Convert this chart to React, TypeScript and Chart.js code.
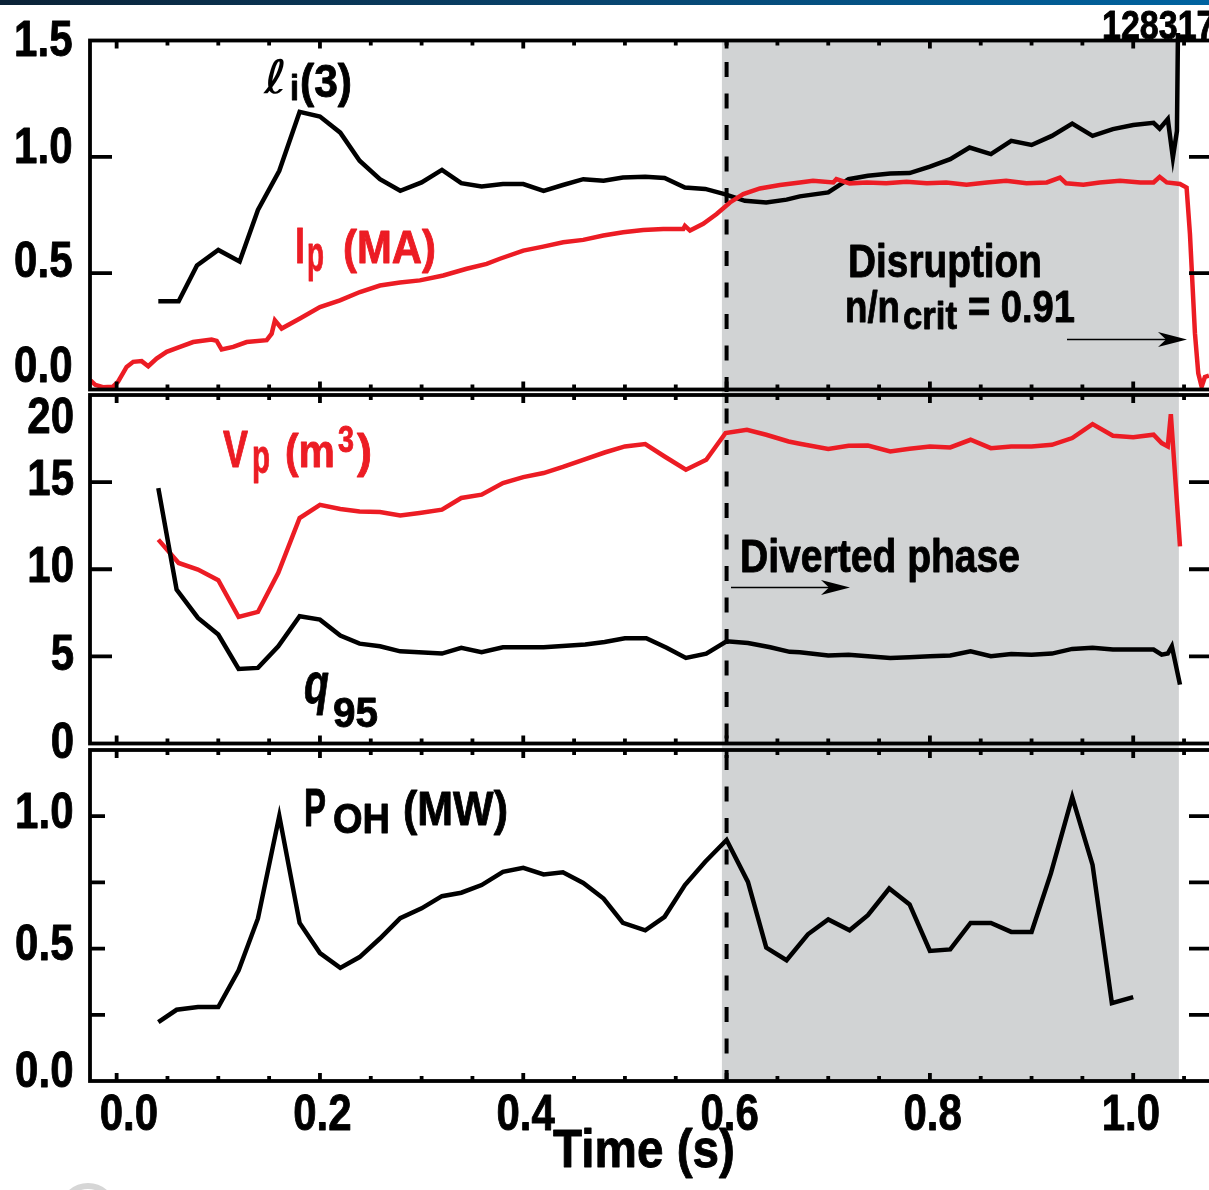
import React, { useEffect, useRef } from 'react';
import { Chart, registerables } from 'chart.js';

Chart.register(...registerables);

// ---------------- data (time in s) ----------------
// li(3)
const T_LI = [0.041, 0.061, 0.079, 0.100, 0.121, 0.139, 0.160, 0.180, 0.200, 0.220, 0.239, 0.259, 0.279, 0.300, 0.320, 0.339, 0.359, 0.380, 0.400, 0.420, 0.439, 0.459, 0.479, 0.498, 0.520, 0.539, 0.559, 0.579, 0.598, 0.618, 0.639, 0.659, 0.672, 0.700, 0.720, 0.739, 0.761, 0.780, 0.800, 0.820, 0.839, 0.860, 0.880, 0.900, 0.920, 0.940, 0.960, 0.980, 1.000, 1.020, 1.026, 1.034, 1.039, 1.043, 1.044];
const LI3 = [0.379, 0.379, 0.533, 0.600, 0.550, 0.772, 0.940, 1.193, 1.173, 1.104, 0.983, 0.904, 0.854, 0.890, 0.944, 0.887, 0.873, 0.883, 0.883, 0.854, 0.879, 0.904, 0.897, 0.911, 0.914, 0.909, 0.868, 0.862, 0.840, 0.811, 0.804, 0.816, 0.830, 0.847, 0.904, 0.919, 0.928, 0.930, 0.958, 0.990, 1.040, 1.012, 1.069, 1.051, 1.090, 1.143, 1.090, 1.119, 1.137, 1.146, 1.121, 1.162, 0.997, 1.111, 1.532];

// Ip (MA)
const T_IP = [-0.026, -0.021, -0.0135, -0.0036, 0.0013, 0.0098, 0.0163, 0.0246, 0.0311, 0.0393, 0.0492, 0.0623, 0.0753, 0.0934, 0.0984, 0.1033, 0.1147, 0.1279, 0.1476, 0.1525, 0.1557, 0.1623, 0.1803, 0.2000, 0.2197, 0.2393, 0.2590, 0.2787, 0.2983, 0.3213, 0.3443, 0.3640, 0.3770, 0.4000, 0.4196, 0.4393, 0.4590, 0.4787, 0.4983, 0.5180, 0.5377, 0.5574, 0.5590, 0.5640, 0.5770, 0.5902, 0.6033, 0.6164, 0.6328, 0.6525, 0.6721,
  0.685, 0.705, 0.708, 0.721, 0.738, 0.757, 0.777, 0.797, 0.816, 0.836, 0.856, 0.875, 0.895, 0.915, 0.928, 0.934, 0.951, 0.967, 0.987, 1.007, 1.020, 1.026, 1.033, 1.046, 1.0525, 1.0558, 1.0607, 1.064, 1.0673, 1.0705, 1.0745];
const IP = [0.040, 0.020, 0.010, 0.012, 0.033, 0.097, 0.119, 0.122, 0.100, 0.133, 0.162, 0.183, 0.204, 0.215, 0.209, 0.172, 0.183, 0.204, 0.212, 0.240, 0.297, 0.262, 0.305, 0.354, 0.383, 0.419, 0.447, 0.460, 0.469, 0.490, 0.519, 0.540, 0.562, 0.597, 0.614, 0.633, 0.643, 0.662, 0.676, 0.686, 0.690, 0.690, 0.703, 0.683, 0.712, 0.754, 0.804, 0.840, 0.864, 0.879, 0.890,
  0.897, 0.890, 0.904, 0.886, 0.890, 0.886, 0.893, 0.886, 0.890, 0.880, 0.890, 0.897, 0.886, 0.890, 0.911, 0.886, 0.880, 0.890, 0.897, 0.890, 0.890, 0.914, 0.890, 0.883, 0.868, 0.669, 0.242, 0.069, 0.012, 0.054, 0.060];

// Vp (m^3)
const T_VP = [0.041, 0.061, 0.080, 0.100, 0.120, 0.139, 0.159, 0.180, 0.200, 0.220, 0.239, 0.259, 0.279, 0.298, 0.320, 0.339, 0.359, 0.380, 0.400, 0.420, 0.439, 0.459, 0.480, 0.500, 0.520, 0.539, 0.560, 0.580, 0.599, 0.620, 0.639, 0.661, 0.672, 0.700, 0.720, 0.739, 0.761, 0.780, 0.800, 0.820, 0.840, 0.860, 0.880, 0.900, 0.920, 0.940, 0.960, 0.980, 1.000, 1.020, 1.028, 1.034, 1.037, 1.046];
const VP = [11.70, 10.36, 9.98, 9.37, 7.26, 7.55, 9.79, 12.94, 13.70, 13.46, 13.32, 13.28, 13.08, 13.23, 13.42, 14.09, 14.28, 14.95, 15.29, 15.52, 15.87, 16.28, 16.70, 17.05, 17.18, 16.47, 15.71, 16.28, 17.82, 18.00, 17.72, 17.33, 17.20, 16.90, 17.09, 17.10, 16.76, 16.91, 17.05, 16.99, 17.43, 16.95, 17.05, 17.05, 17.14, 17.53, 18.33, 17.66, 17.58, 17.72, 17.24, 17.05, 18.90, 11.31];

// q95
const T_Q = [0.041, 0.059, 0.080, 0.100, 0.120, 0.139, 0.159, 0.180, 0.200, 0.220, 0.239, 0.259, 0.279, 0.320, 0.339, 0.359, 0.380, 0.420, 0.461, 0.480, 0.500, 0.521, 0.541, 0.560, 0.580, 0.600, 0.621, 0.643, 0.662, 0.672, 0.700, 0.720, 0.739, 0.761, 0.780, 0.800, 0.820, 0.840, 0.860, 0.880, 0.900, 0.920, 0.940, 0.960, 0.980, 1.000, 1.020, 1.028, 1.034, 1.038, 1.046];
const Q95 = [14.66, 8.83, 7.21, 6.25, 4.28, 4.34, 5.58, 7.30, 7.11, 6.19, 5.73, 5.58, 5.29, 5.16, 5.49, 5.24, 5.52, 5.52, 5.68, 5.83, 6.04, 6.04, 5.49, 4.91, 5.16, 5.87, 5.77, 5.52, 5.26, 5.24, 5.05, 5.10, 5.01, 4.91, 4.95, 5.01, 5.05, 5.29, 5.01, 5.14, 5.10, 5.16, 5.43, 5.49, 5.39, 5.39, 5.39, 5.10, 5.16, 5.58, 3.38];

// P_OH (MW)
const T_POH = [0.041, 0.059, 0.080, 0.100, 0.120, 0.139, 0.160, 0.180, 0.200, 0.220, 0.239, 0.259, 0.279, 0.300, 0.320, 0.339, 0.359, 0.380, 0.400, 0.420, 0.439, 0.459, 0.479, 0.498, 0.520, 0.539, 0.559, 0.579, 0.600, 0.621, 0.639, 0.659, 0.680, 0.700, 0.721, 0.739, 0.760, 0.780, 0.800, 0.820, 0.840, 0.860, 0.880, 0.900, 0.919, 0.940, 0.960, 0.979, 1.000];
const POH = [0.222, 0.269, 0.279, 0.279, 0.418, 0.614, 1.001, 0.597, 0.483, 0.427, 0.468, 0.538, 0.615, 0.652, 0.698, 0.711, 0.740, 0.790, 0.805, 0.780, 0.788, 0.748, 0.689, 0.597, 0.569, 0.620, 0.740, 0.828, 0.910, 0.752, 0.504, 0.456, 0.554, 0.610, 0.569, 0.626, 0.727, 0.667, 0.491, 0.497, 0.597, 0.597, 0.563, 0.563, 0.784, 1.072, 0.816, 0.294, 0.317];

// phases
const SHADE_START = 0.5954;
const SHADE_END = 1.0449;
const DIVERTED_T = 0.6;

// axes
const X_MIN = -0.0262;
const X_MAX = 1.077;
const X_LABEL_VALUES = [0, 0.2, 0.4, 0.6, 0.8, 1.0];
const X_LABEL_TEXT = ['0.0', '0.2', '0.4', '0.6', '0.8', '1.0'];
const X_MINOR_STEP = 0.05;
const X_MINOR_COUNT = 22;

const P1_RANGE = [0, 1.5];
const P1_TICKS = [0.5, 1.0];
const P1_LABEL_VALUES = [0, 0.5, 1.0, 1.5];
const P1_LABEL_TEXT = ['0.0', '0.5', '1.0', '1.5'];

const P2_RANGE = [0, 20];
const P2_TICKS = [5, 10, 15];
const P2_LABEL_VALUES = [0, 5, 10, 15, 20];
const P2_LABEL_TEXT = ['0', '5', '10', '15', '20'];

const P3_RANGE = [0, 1.25];
const P3_TICKS = [0.25, 0.5, 0.75, 1.0];
const P3_LABEL_VALUES = [0, 0.5, 1.0];
const P3_LABEL_TEXT = ['0.0', '0.5', '1.0'];

// ---------------- layout / style ----------------
const CANVAS_W = 1240;
const CANVAS_H = 1190;
const PLOT_LEFT = 90;
const PLOT_RIGHT = 1211.5;
const FONT = '"Liberation Sans", Arial, Helvetica, sans-serif';
const RED = '#ec1c24';
const BLACK = '#000000';
const SHADE = '#d1d3d4';
const LINE_W = 4.5;
const FRAME_W = 3.8;
const TEXT_STROKE = 0.9;

const P1_LABEL_DY = [-7.5, 4, 6, 15.5];
const P2_LABEL_DY = [14.5, 13.6, 12.5, 13, 38];
const P3_LABEL_DY = [6, 11.4, 12];
const X_LABEL_DX = [12.3, 2.5, 2.3, 3, 2.7, -2.3];

type TextSpec = {
  text: string; x: number; y: number; size: number;
  width?: number; hs?: number; color?: string; weight?: string; style?: string;
  family?: string; align?: 'left' | 'right' | 'center';
};

function drawText(ctx: CanvasRenderingContext2D, t: TextSpec) {
  ctx.save();
  const weight = t.weight || 'bold';
  ctx.font = `${t.style || 'normal'} ${weight} ${t.size}px ${t.family || FONT}`;
  ctx.fillStyle = t.color || BLACK;
  ctx.strokeStyle = t.color || BLACK;
  ctx.textBaseline = 'alphabetic';
  ctx.textAlign = 'left';
  const w = ctx.measureText(t.text).width;
  const s = t.width ? t.width / w : (t.hs ?? 0.84);
  const sw = w * s;
  let x0 = t.x;
  if (t.align === 'right') x0 = t.x - sw;
  else if (t.align === 'center') x0 = t.x - sw / 2;
  ctx.translate(x0, t.y);
  ctx.scale(s, 1);
  ctx.fillText(t.text, 0, 0);
  if (weight === 'bold') {
    ctx.lineWidth = TEXT_STROKE;
    ctx.lineJoin = 'round';
    ctx.strokeText(t.text, 0, 0);
  }
  ctx.restore();
}

function drawArrow(ctx: CanvasRenderingContext2D, x1: number, x2: number, y: number) {
  ctx.save();
  ctx.strokeStyle = BLACK;
  ctx.fillStyle = BLACK;
  ctx.lineWidth = 1.7;
  ctx.setLineDash([]);
  ctx.beginPath();
  ctx.moveTo(x1, y);
  ctx.lineTo(x2 - 10, y);
  ctx.stroke();
  ctx.beginPath();
  ctx.moveTo(x2, y);
  ctx.lineTo(x2 - 29, y - 7.5);
  ctx.lineTo(x2 - 21, y);
  ctx.lineTo(x2 - 29, y + 7.5);
  ctx.closePath();
  ctx.fill();
  ctx.restore();
}

interface PanelDef {
  top: number; bottom: number; range: number[]; ticks: number[];
  tickLenL: number; tickLenR: number;
  labelValues: number[]; labelText: string[]; labelDy: number[]; labelRight: number;
  texts: TextSpec[]; arrows: number[][]; datasets: any[];
}

const pts = (t: number[], v: number[]) => t.map((x, i) => ({ x, y: v[i] }));

const PANELS: PanelDef[] = [
  {
    top: 40.5, bottom: 389.5, range: P1_RANGE, ticks: P1_TICKS, tickLenL: 22, tickLenR: 22.5,
    labelValues: P1_LABEL_VALUES, labelText: P1_LABEL_TEXT, labelDy: P1_LABEL_DY, labelRight: 72.5,
    texts: [
      { text: '\u2113', x: 264, y: 93, size: 46, weight: 'normal', style: 'italic', family: '"DejaVu Sans", sans-serif', width: 23 },
      { text: 'i', x: 290, y: 100, size: 35, width: 9 },
      { text: '(3)', x: 300, y: 97, size: 46, width: 52 },
      { text: 'I', x: 295, y: 263, size: 50, width: 10, color: RED },
      { text: 'p', x: 307, y: 271, size: 50, width: 17, color: RED },
      { text: '(MA)', x: 343, y: 263, size: 47, width: 93, color: RED },
      { text: 'Disruption', x: 848, y: 277, size: 47, width: 194 },
      { text: 'n/n', x: 845, y: 322, size: 44, width: 55 },
      { text: 'crit', x: 903, y: 329, size: 38, width: 54 },
      { text: '= 0.91', x: 968, y: 322, size: 44, width: 107 },
      { text: '128317', x: 1102, y: 39, size: 40, hs: 0.85 },
    ],
    arrows: [[1067, 1187, 339.5]],
    datasets: [
      { label: 'Ip (MA)', data: pts(T_IP, IP), borderColor: RED },
      { label: 'li(3)', data: pts(T_LI, LI3), borderColor: BLACK, clip: false },
    ],
  },
  {
    top: 395, bottom: 743.5, range: P2_RANGE, ticks: P2_TICKS, tickLenL: 22, tickLenR: 22.5,
    labelValues: P2_LABEL_VALUES, labelText: P2_LABEL_TEXT, labelDy: P2_LABEL_DY, labelRight: 74,
    texts: [
      { text: 'V', x: 223, y: 467, size: 51, width: 25, color: RED },
      { text: 'p', x: 252, y: 473, size: 48, width: 18, color: RED },
      { text: '(m', x: 285, y: 467, size: 47, width: 50, color: RED },
      { text: '3', x: 338, y: 452, size: 37, width: 16, color: RED },
      { text: ')', x: 357, y: 467, size: 47, width: 15, color: RED },
      { text: 'Diverted phase', x: 740, y: 572, size: 47, width: 280 },
      { text: 'q', x: 304, y: 703, size: 58, width: 25, style: 'italic' },
      { text: '95', x: 333, y: 727, size: 42, width: 45 },
    ],
    arrows: [[731, 850, 587.5]],
    datasets: [
      { label: 'q95', data: pts(T_Q, Q95), borderColor: BLACK },
      { label: 'Vp (m3)', data: pts(T_VP, VP), borderColor: RED },
    ],
  },
  {
    top: 750, bottom: 1081, range: P3_RANGE, ticks: P3_TICKS, tickLenL: 15, tickLenR: 22.5,
    labelValues: P3_LABEL_VALUES, labelText: P3_LABEL_TEXT, labelDy: P3_LABEL_DY, labelRight: 73.5,
    texts: [
      { text: 'P', x: 304, y: 826, size: 53, width: 22 },
      { text: 'OH', x: 333, y: 833, size: 43, width: 57 },
      { text: '(MW)', x: 403, y: 825, size: 49, width: 105 },
      { text: 'Time (s)', x: 644, y: 1167, size: 54, width: 182, align: 'center' },
    ],
    arrows: [],
    datasets: [
      { label: 'POH (MW)', data: pts(T_POH, POH), borderColor: BLACK },
    ],
  },
];

function makePlugin(index: number) {
  const p = PANELS[index];
  return {
    id: 'panelDecor' + index,
    beforeDatasetsDraw(chart: any) {
      if (index !== 0) return;
      const ctx: CanvasRenderingContext2D = chart.ctx;
      const xs = chart.scales.x;
      ctx.save();
      // top banner
      const g = ctx.createLinearGradient(0, 0, 1209, 0);
      g.addColorStop(0, '#0b2236');
      g.addColorStop(0.5, '#08456f');
      g.addColorStop(1, '#0063a0');
      ctx.fillStyle = g;
      ctx.fillRect(0, 0, CANVAS_W, 5);
      // shaded diverted phase
      const top = PANELS[0].top;
      const bottom = PANELS[2].bottom;
      const x1 = xs.getPixelForValue(SHADE_START);
      const x2 = xs.getPixelForValue(SHADE_END);
      ctx.fillStyle = SHADE;
      ctx.fillRect(x1, top, x2 - x1, bottom - top);
      // dashed divertor line
      const xd = xs.getPixelForValue(DIVERTED_T);
      const period = 31.5;
      ctx.setLineDash([15, 16.5]);
      ctx.lineDashOffset = (((top - 62) % period) + period) % period;
      ctx.strokeStyle = BLACK;
      ctx.lineWidth = 4;
      ctx.beginPath();
      ctx.moveTo(xd, top);
      ctx.lineTo(xd, bottom);
      ctx.stroke();
      ctx.setLineDash([]);
      // faint mark bottom-left
      ctx.strokeStyle = '#d6d6d6';
      ctx.lineWidth = 6;
      ctx.beginPath();
      ctx.arc(88, 1212, 26, 1.25 * Math.PI, 1.75 * Math.PI);
      ctx.stroke();
      ctx.restore();
    },
    afterDatasetsDraw(chart: any) {
      const ctx: CanvasRenderingContext2D = chart.ctx;
      const xs = chart.scales.x;
      const ys = chart.scales.y;
      const a = chart.chartArea;
      ctx.save();
      ctx.setLineDash([]);
      ctx.strokeStyle = BLACK;
      ctx.lineWidth = FRAME_W;
      ctx.lineCap = 'butt';
      ctx.strokeRect(a.left, a.top, a.right - a.left, a.bottom - a.top);
      // y ticks (inward, both sides)
      ctx.beginPath();
      p.ticks.forEach((v) => {
        const y = ys.getPixelForValue(v);
        ctx.moveTo(a.left, y); ctx.lineTo(a.left + p.tickLenL, y);
        ctx.moveTo(a.right, y); ctx.lineTo(a.right - p.tickLenR, y);
      });
      // x ticks (inward, top and bottom)
      for (let k = 0; k < X_MINOR_COUNT; k++) {
        const x = xs.getPixelForValue(k * X_MINOR_STEP);
        const len = k % 4 === 0 ? 8 : 5;
        ctx.moveTo(x, a.top); ctx.lineTo(x, a.top + len);
        ctx.moveTo(x, a.bottom); ctx.lineTo(x, a.bottom - len);
      }
      ctx.stroke();
      ctx.restore();

      // y tick labels
      p.labelValues.forEach((v, i) => {
        drawText(ctx, { text: p.labelText[i], x: p.labelRight, y: ys.getPixelForValue(v) + p.labelDy[i], size: 50, hs: 0.84, align: 'right' });
      });
      // x tick labels on bottom panel
      if (index === 2) {
        X_LABEL_VALUES.forEach((v, i) => {
          drawText(ctx, { text: X_LABEL_TEXT[i], x: xs.getPixelForValue(v) + X_LABEL_DX[i], y: 1129.5, size: 50, hs: 0.84, align: 'center' });
        });
      }
      p.texts.forEach((t) => drawText(ctx, t));
      p.arrows.forEach((ar) => drawArrow(ctx, ar[0], ar[1], ar[2]));
    },
  };
}

function makeConfig(index: number): any {
  const p = PANELS[index];
  return {
    type: 'line',
    data: {
      datasets: p.datasets.map((d) => ({
        ...d,
        borderWidth: LINE_W,
        pointRadius: 0,
        fill: false,
        tension: 0,
      })),
    },
    options: {
      animation: false,
      responsive: false,
      devicePixelRatio: 1,
      events: [],
      layout: {
        padding: { left: PLOT_LEFT, right: CANVAS_W - PLOT_RIGHT, top: p.top, bottom: CANVAS_H - p.bottom },
      },
      scales: {
        x: { type: 'linear', min: X_MIN, max: X_MAX, display: false },
        y: { type: 'linear', min: p.range[0], max: p.range[1], display: false },
      },
      plugins: { legend: { display: false }, tooltip: { enabled: false } },
      elements: {
        point: { radius: 0 },
        line: { tension: 0, borderJoinStyle: 'miter', borderCapStyle: 'butt' },
      },
    },
    plugins: [makePlugin(index)],
  };
}

export default function App() {
  const r0 = useRef<HTMLCanvasElement>(null);
  const r1 = useRef<HTMLCanvasElement>(null);
  const r2 = useRef<HTMLCanvasElement>(null);

  useEffect(() => {
    const refs = [r0, r1, r2];
    const charts = refs.map((r, i) => new Chart(r.current as HTMLCanvasElement, makeConfig(i)));
    return () => charts.forEach((c) => c.destroy());
  }, []);

  const cs: React.CSSProperties = { position: 'absolute', left: 0, top: 0, width: CANVAS_W, height: CANVAS_H };
  return (
    <div style={{ position: 'absolute', left: 0, top: 0, width: 1209, height: 1190, overflow: 'hidden', background: '#ffffff' }}>
      <canvas ref={r0} width={CANVAS_W} height={CANVAS_H} style={cs} />
      <canvas ref={r1} width={CANVAS_W} height={CANVAS_H} style={cs} />
      <canvas ref={r2} width={CANVAS_W} height={CANVAS_H} style={cs} />
    </div>
  );
}
